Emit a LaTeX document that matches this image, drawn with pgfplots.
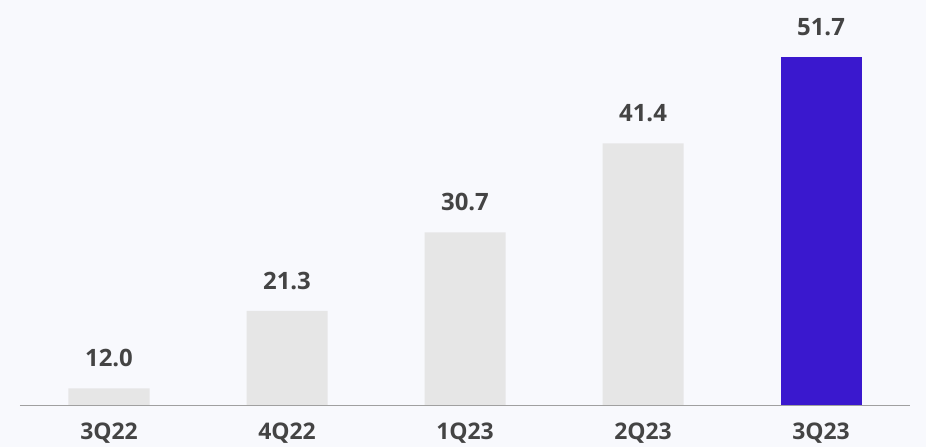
\documentclass[border=0pt]{standalone}
\usepackage{fontspec}
\setmainfont{Open Sans}
\usepackage{pgfplots}
\pgfplotsset{compat=1.18}
\definecolor{bgcol}{HTML}{F8F9FD}
\definecolor{bargrey}{HTML}{E6E6E6}
\definecolor{barpurple}{HTML}{3A18CE}
\definecolor{txt}{HTML}{444444}
\definecolor{axisgrey}{HTML}{A0A0A0}

\begin{document}
\begin{tikzpicture}[x=1bp,y=1bp]
\fill[bgcol] (-20,-42) rectangle (906,405);
\begin{axis}[
    at={(0,0)}, anchor=south west,
    scale only axis,
    width=890bp, height=405bp,
    xmin=-0.5, xmax=4.5,
    ymin=10, ymax=58.6,
    axis x line*=bottom,
    axis y line=none,
    x axis line style={axisgrey, line width=0.8pt, -},
    xtick={0,1,2,3,4},
    xticklabels={3Q22,4Q22,1Q23,2Q23,3Q23},
    major tick length=0pt,
    xticklabel style={font=\fontsize{23}{25}\selectfont\bfseries, text=txt,
        anchor=north, inner sep=0pt, yshift=-18bp},
    ybar, bar width=81bp, bar shift=0pt,
    nodes near coords={\pgfmathprintnumber[fixed,fixed zerofill,precision=1]{\pgfplotspointmeta}},
    every node near coord/.append style={font=\fontsize{24}{26}\selectfont\bfseries,
        text=txt, anchor=south, inner sep=0pt, yshift=21bp},
    /pgf/number format/assume math mode=true,
    clip=false,
]
\addplot[draw=none, fill=bargrey] coordinates {(0,12.0) (1,21.3) (2,30.7) (3,41.4)};
\addplot[draw=none, fill=barpurple] coordinates {(4,51.7)};
\end{axis}
\pgfresetboundingbox
\path (-20,-42) rectangle (906,405);
\end{tikzpicture}
\end{document}
